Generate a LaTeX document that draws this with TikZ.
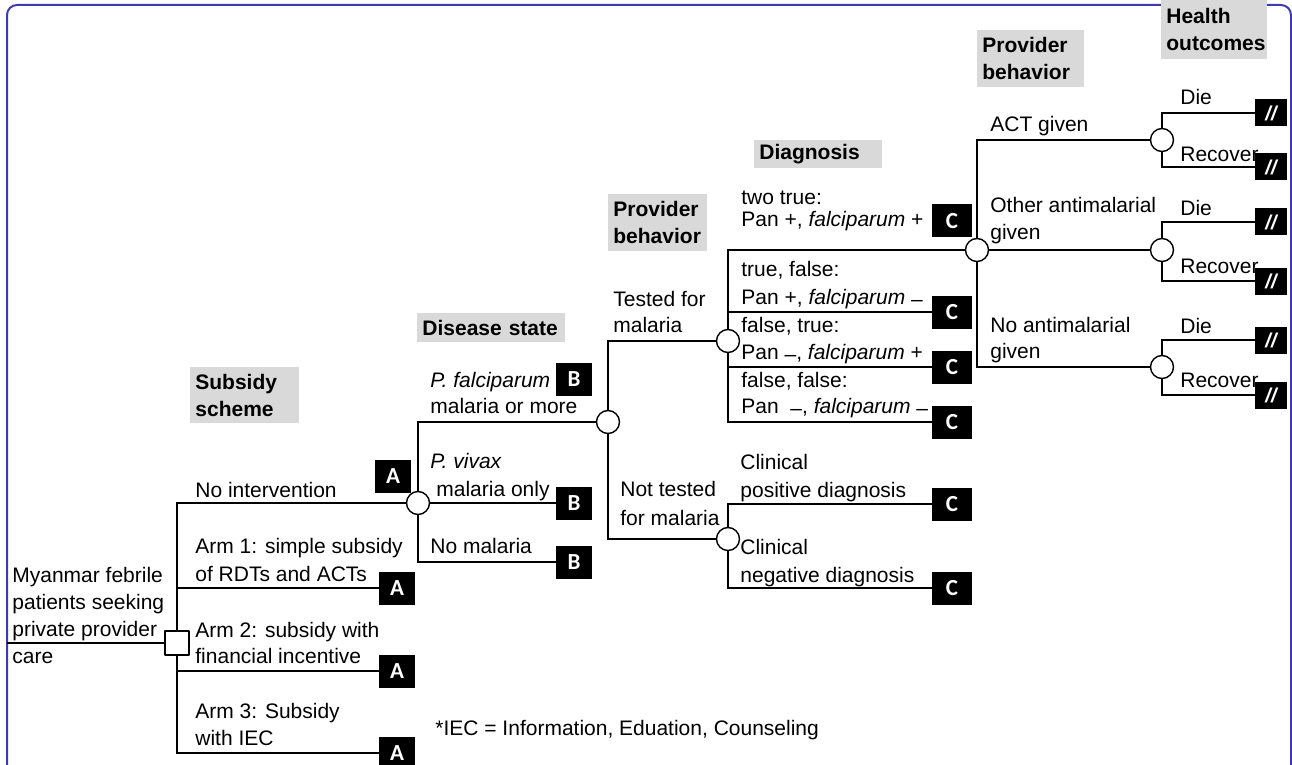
\documentclass[tikz,border=0pt]{standalone}
\usepackage{fontspec}
\setmainfont{Liberation Sans}
\newfontfamily\boxfont{Carlito}
\usetikzlibrary{backgrounds}
\definecolor{frameblue}{RGB}{60,60,175}

\begin{document}
\begin{tikzpicture}[x=0.5pt,y=-0.5pt,line join=round, % Malaria subsidy decision tree
    txt/.style={anchor=base west,align=left,inner sep=0pt,font=\fontsize{10.5}{13.5}\selectfont},
    hdr/.style={anchor=north west,fill=black!15,inner xsep=2.5pt,inner ysep=0pt,align=left,font=\fontsize{10.5}{13.5}\selectfont\bfseries},
    chance/.style={circle,draw,fill=white,line width=0.7pt,minimum size=11.5pt,inner sep=0pt},
    decision/.style={rectangle,draw,fill=white,line width=0.7pt,minimum size=12pt,inner sep=0pt},
    tag/.style={fill=black,text=white,inner sep=0pt,minimum width=18pt,minimum height=16.5pt,font=\boxfont\bfseries\fontsize{11.5}{11.5}\selectfont},
    term/.style={fill=black,text=white,inner sep=0pt,minimum width=16pt,minimum height=13.5pt,font=\bfseries\itshape\fontsize{10}{10}\selectfont},
    branch/.style={line width=1pt}]
  \useasboundingbox (0,0) rectangle (1292,765);

  % decision and chance nodes
  \coordinate (start) at (7,643);
  \node[decision] (sq) at (177,643) {};
  \node[chance] (c1) at (418,503) {};
  \node[chance] (c2) at (608,422) {};
  \node[chance] (c3) at (728,341) {};
  \node[chance] (c4) at (728,539) {};
  \node[chance] (c5) at (977,250) {};
  \node[chance] (o1) at (1162,140) {};
  \node[chance] (o2) at (1162,250) {};
  \node[chance] (o3) at (1162,367) {};

  % lettered boxes
  \node[tag] (A0) at (393,476) {A};
  \node[tag] (A1) at (397,588) {A};
  \node[tag] (A2) at (397,671) {A};
  \node[tag] (A3) at (397,753) {A};
  \node[tag] (B1) at (574,379) {B};
  \node[tag] (B2) at (574,503) {B};
  \node[tag] (B3) at (574,562) {B};
  \node[tag,minimum width=20pt] (C1) at (952,221) {C};
  \node[tag,minimum width=20pt] (C2) at (952,312) {C};
  \node[tag,minimum width=20pt] (C3) at (952,367) {C};
  \node[tag,minimum width=20pt] (C4) at (952,422) {C};
  \node[tag,minimum width=20pt] (C5) at (952,504) {C};
  \node[tag,minimum width=20pt] (C6) at (952,588) {C};
  \node[term] (D1) at (1271,113) {//};
  \node[term] (R1) at (1271,167) {//};
  \node[term] (D2) at (1271,222) {//};
  \node[term] (R2) at (1271,281) {//};
  \node[term] (D3) at (1271,340) {//};
  \node[term] (R3) at (1271,395) {//};

  % headers
  \node[hdr,text width=49.5pt,minimum height=28pt] (h1) at (190,367) {Subsidy\\scheme};
  \node[hdr,text width=69pt,minimum height=14.5pt] (h2) at (417,313) {Disease state};
  \node[hdr,text width=44.5pt,minimum height=28.5pt] (h3) at (608,194) {Provider\\behavior};
  \node[hdr,text width=59pt,minimum height=14pt] (h4) at (754,140) {Diagnosis};
  \node[hdr,text width=48.5pt,minimum height=28.5pt] (h5) at (977,30) {Provider\\behavior};

  % branch labels (placed at the baseline of their last line)
  \node[txt] at (12,663) {Myanmar febrile\\patients seeking\\private provider\\care};
  \node[txt] at (195,497) {No intervention};
  \node[txt] at (195,581) {Arm 1: simple subsidy\\[0.5pt]of RDTs and ACTs};
  \node[txt] at (195,663) {Arm 2: subsidy with\\[-0.5pt]financial incentive};
  \node[txt] at (195,745) {Arm 3: Subsidy\\with IEC};
  \node[txt] at (430,413) {\textit{P. falciparum}\\[-0.5pt]malaria or more};
  \node[txt] at (430,496) {\textit{P. vivax}\\[0.5pt]\hspace*{3pt}malaria only};
  \node[txt] at (430,553) {No malaria};
  \node[txt] at (613,332) {Tested for\\[-0.5pt]malaria};
  \node[txt] at (620,525) {Not tested\\[1pt]for malaria};
  \node[txt] at (741,227) {two true:\\[-2.5pt]Pan +, \textit{falciparum} +};
  \node[txt] at (741,305) {true, false:\\[0.5pt]Pan +, \textit{falciparum} \raisebox{-1pt}{–}};
  \node[txt] at (741,359) {false, true:\\Pan \raisebox{-1pt}{–}, \textit{falciparum} +};
  \node[txt] at (741,413) {false, false:\\[-0.5pt]Pan \ \raisebox{-1pt}{–}, \textit{falciparum} \raisebox{-1pt}{–}};
  \node[txt] at (740,497) {Clinical\\[0.5pt]positive diagnosis};
  \node[txt] at (740,582) {Clinical\\[0.5pt]negative diagnosis};
  \node[txt] at (990,132) {ACT given};
  \node[txt] at (990,240) {Other antimalarial\\given};
  \node[txt] at (990,358) {No antimalarial\\[-0.5pt]given};
  \node[txt] at (1180,105) {Die};
  \node[txt] at (1180,162) {Recover};
  \node[txt] at (1180,215) {Die};
  \node[txt] at (1180,273) {Recover};
  \node[txt] at (1180,333) {Die};
  \node[txt] at (1180,387) {Recover};
  \node[txt] at (435,735) {*IEC = Information, Eduation, Counseling};

  \begin{scope}[on background layer]
    \draw[frameblue,line width=1pt,rounded corners=5pt] (7,5) rectangle (1291,775);
    \node[hdr,text width=48pt,minimum height=29.5pt] (h6) at (1161,0) {Health\\outcomes};
    \draw[branch] (start) -- (sq);
    \draw[branch] (sq) |- (c1);
    \draw[branch] (sq) |- (A1);
    \draw[branch] (sq) |- (A2);
    \draw[branch] (sq) |- (A3);
    \draw[branch] (c1) |- (c2);
    \draw[branch] (c1) -- (B2);
    \draw[branch] (c1) |- (B3);
    \draw[branch] (c2) |- (c3);
    \draw[branch] (c2) |- (c4);
    \draw[branch] (c3) |- (c5);
    \draw[branch] (c3) |- (C2);
    \draw[branch] (c3) |- (C3);
    \draw[branch] (c3) |- (C4);
    \draw[branch] (c4) |- (C5);
    \draw[branch] (c4) |- (C6);
    \draw[branch] (c5) |- (o1);
    \draw[branch] (c5) -- (o2);
    \draw[branch] (c5) |- (o3);
    \draw[branch] (o1) |- (D1);
    \draw[branch] (o1) |- (R1);
    \draw[branch] (o2) |- (D2);
    \draw[branch] (o2) |- (R2);
    \draw[branch] (o3) |- (D3);
    \draw[branch] (o3) |- (R3);
  \end{scope}
\end{tikzpicture}
\end{document}
